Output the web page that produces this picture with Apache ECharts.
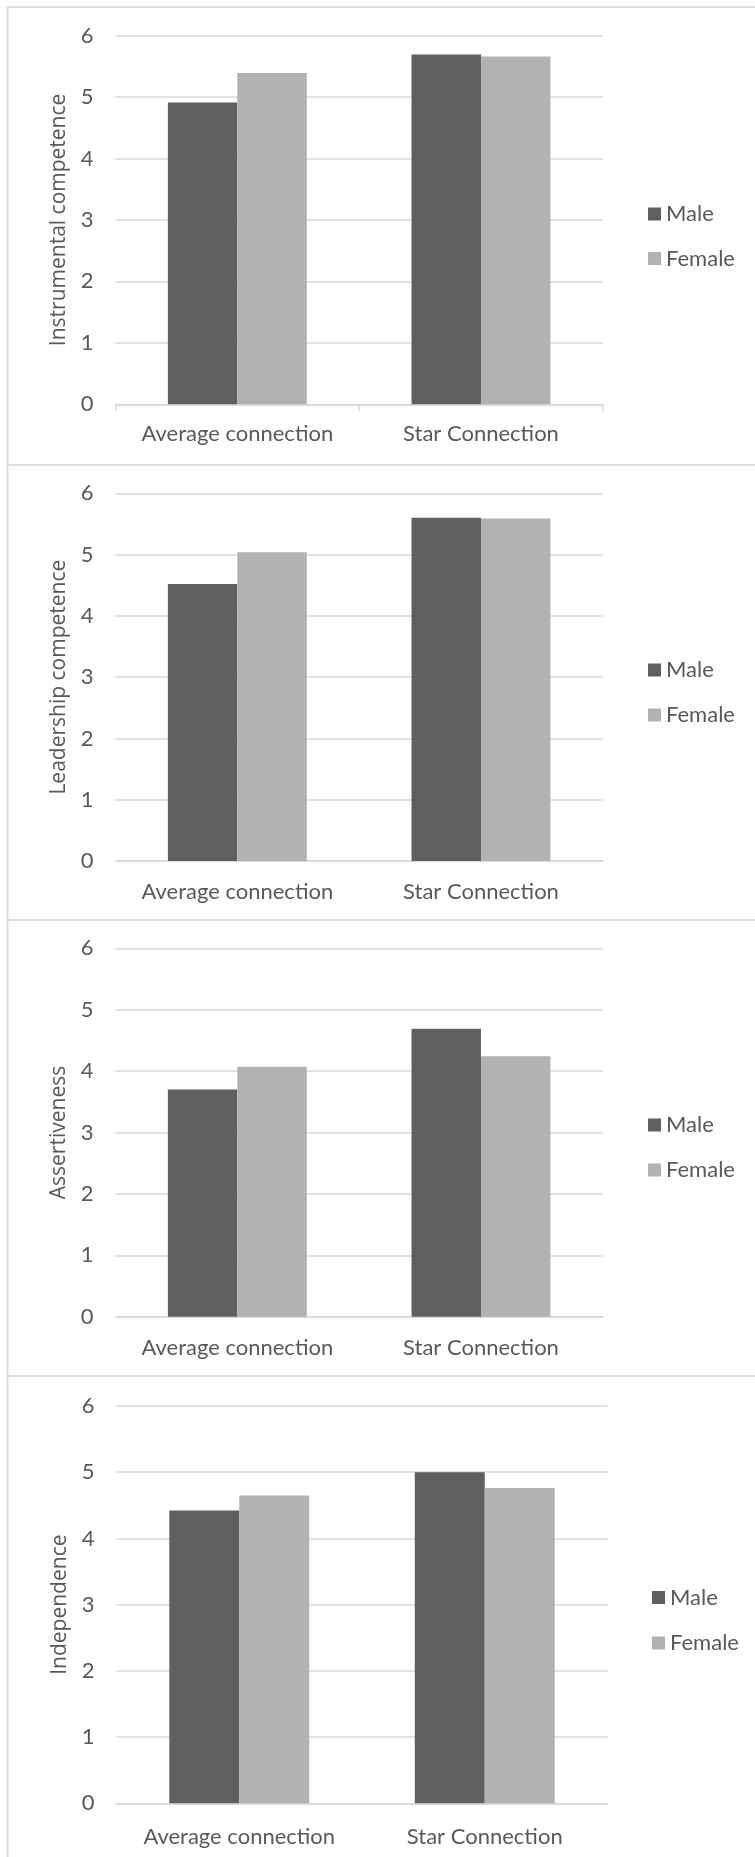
<!DOCTYPE html>
<html>
<head>
<meta charset="utf-8">
<style>
  html, body { margin: 0; padding: 0; background: #ffffff; }
  #chart { width: 755px; height: 1857px; }
</style>
<script src="https://cdn.jsdelivr.net/npm/echarts@6/dist/echarts.min.js"></script>
</head>
<body>
<div id="chart"></div>
<script>
// Categories shared by every panel
const categories = ['Average connection', 'Star Connection'];
const seriesNames = ['Male', 'Female'];
const yTicks = [0, 1, 2, 3, 4, 5, 6];

// One measure per panel (y-axis title)
const measures = ['Instrumental competence', 'Leadership competence', 'Assertiveness', 'Independence'];

// Mean scores per measure, [Average connection, Star Connection]
const instrumentalMale   = [4.91, 5.69];
const instrumentalFemale = [5.39, 5.66];
const leadershipMale     = [4.52, 5.60];
const leadershipFemale   = [5.04, 5.59];
const assertivenessMale   = [3.70, 4.69];
const assertivenessFemale = [4.07, 4.24];
const independenceMale   = [4.42, 5.00];
const independenceFemale = [4.65, 4.76];

const panelValues = [
  [instrumentalMale, instrumentalFemale],
  [leadershipMale, leadershipFemale],
  [assertivenessMale, assertivenessFemale],
  [independenceMale, independenceFemale]
];

// Panel geometry (pixels): plot area, label offset, legend box, frame line
const layout = [
  { left: 115.5, top: 35.5,  width: 487.3, height: 368.8, labelMargin: 19, legendLeft: 643, legendTop: 198,    gap: 22.5, frameY: 7,    ticks: true },
  { left: 115.5, top: 493.3, width: 487.3, height: 367.7, labelMargin: 20, legendLeft: 643, legendTop: 654,    gap: 23,   frameY: 465,  ticks: false },
  { left: 115.5, top: 948.3, width: 487.3, height: 368.4, labelMargin: 20, legendLeft: 643, legendTop: 1109,   gap: 23,   frameY: 920,  ticks: false },
  { left: 116.5, top: 1406,  width: 491,   height: 397.3, labelMargin: 23, legendLeft: 647, legendTop: 1581.5, gap: 23.5, frameY: 1376, ticks: false }
];

const colors = ['#5f5f5f', '#b2b2b2'];
const textColor = '#595959';
const gridColor = '#d9d9d9';
const frameColor = '#dedede';
const labelFont = 'Lato';
const titleFont = '"Open Sans"';

const grid = [], xAxis = [], yAxis = [], series = [], legend = [], graphic = [];

layout.forEach((p, i) => {
  grid.push({ left: p.left, top: p.top, width: p.width, height: p.height, containLabel: false });

  xAxis.push({
    type: 'category',
    gridIndex: i,
    data: categories,
    axisLine: { show: true, lineStyle: { color: gridColor, width: 1.5 } },
    axisTick: { show: p.ticks, length: 7, lineStyle: { color: gridColor, width: 1.5 } },
    axisLabel: {
      interval: 0,
      hideOverlap: false,
      color: textColor,
      fontFamily: labelFont,
      fontSize: 22,
      margin: p.labelMargin
    },
    splitLine: { show: false }
  });

  yAxis.push({
    type: 'value',
    gridIndex: i,
    min: yTicks[0],
    max: yTicks[yTicks.length - 1],
    interval: 1,
    name: measures[i],
    nameLocation: 'middle',
    nameGap: 43,
    nameTextStyle: { color: textColor, fontFamily: titleFont, fontSize: 21 },
    axisLine: { show: false },
    axisTick: { show: false },
    axisLabel: { color: textColor, fontFamily: labelFont, fontSize: 22, margin: 22 },
    splitLine: { show: true, lineStyle: { color: gridColor, width: 1.5 } }
  });

  seriesNames.forEach((name, s) => {
    series.push({
      type: 'bar',
      name: name,
      xAxisIndex: i,
      yAxisIndex: i,
      data: panelValues[i][s],
      barGap: '0%',
      barCategoryGap: '43%',
      itemStyle: { color: colors[s] },
      emphasis: { disabled: true },
      animation: false
    });
  });

  legend.push({
    data: seriesNames,
    orient: 'vertical',
    left: p.legendLeft,
    top: p.legendTop,
    icon: 'rect',
    itemWidth: 13,
    itemHeight: 13,
    itemGap: p.gap,
    selectedMode: false,
    textStyle: { color: textColor, fontFamily: labelFont, fontSize: 22 }
  });

  // horizontal frame line separating the panels
  graphic.push({
    type: 'line',
    silent: true,
    shape: { x1: 7, y1: p.frameY, x2: 760, y2: p.frameY },
    style: { stroke: frameColor, lineWidth: 2 }
  });
});

// left frame edge running down all panels
graphic.push({
  type: 'line',
  silent: true,
  shape: { x1: 7.5, y1: 6, x2: 7.5, y2: 1860 },
  style: { stroke: frameColor, lineWidth: 2 }
});

const chart = echarts.init(document.getElementById('chart'), null, { renderer: 'canvas' });
chart.setOption({
  backgroundColor: '#ffffff',
  animation: false,
  color: colors,
  grid: grid,
  xAxis: xAxis,
  yAxis: yAxis,
  legend: legend,
  series: series,
  graphic: graphic
});
</script>
</body>
</html>
